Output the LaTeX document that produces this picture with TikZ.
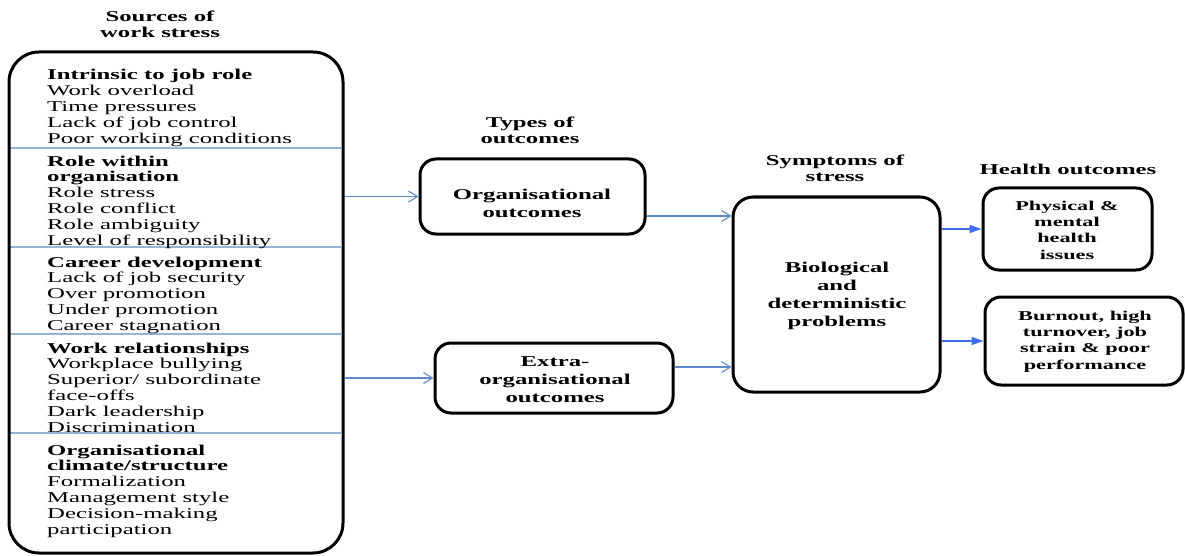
\documentclass[tikz,border=0pt]{standalone}
\usepackage{fontspec}
\setmainfont{Liberation Serif}[FakeStretch=1.65]
\usetikzlibrary{arrows.meta,calc}
\definecolor{linkblue}{RGB}{95,140,200}
\definecolor{strongblue}{RGB}{60,110,235}
\definecolor{rulegray}{RGB}{150,180,215}
\tikzset{
  frame/.style={draw, line width=3pt, rounded corners=#1, inner sep=0pt},
  frame/.default=16pt,
  % every text node is placed by the baseline of its last line
  head/.style={font=\fontsize{15}{16}\selectfont\bfseries, align=center, inner sep=0pt, anchor=base},
  boxtext/.style={font=\fontsize{15}{18}\selectfont\bfseries, align=center, inner sep=0pt, anchor=base},
  smalltext/.style={font=\fontsize{13.5}{16.3}\selectfont\bfseries, align=center, inner sep=0pt, anchor=base},
  listtext/.style={font=\fontsize{15}{15.8}\selectfont, align=left, inner sep=0pt, anchor=base west},
  openarrow/.style={draw=linkblue, line width=1.1pt, -{Straight Barb[length=9pt,width=11pt,line width=1.1pt]}},
  solidarrow/.style={draw=strongblue, line width=1.3pt, -{Triangle[length=12pt,width=8pt]}},
  divider/.style={draw=rulegray, line width=1.4pt}
}
\begin{document}
\begin{tikzpicture}[x=1pt,y=-1pt]
\useasboundingbox (0,0) rectangle (1185,556);

% column headings
\node[head] (hsrc) at (160,38) {Sources of\\work stress};
\node[head] (htype) at (530,144) {Types of\\outcomes};
\node[head] (hsym) at (835,182) {Symptoms of\\stress};
\node[head] (hhealth) at (1068,175) {Health outcomes};

% dividers between the source groups
\draw[divider] (9,148) -- (341,148);
\draw[divider] (9,247) -- (341,247);
\draw[divider] (9,334) -- (341,334);
\draw[divider] (9,433) -- (341,433);

% sources of work stress
\node[frame=30pt, minimum width=334pt, minimum height=501pt] (src) at (176,302.5) {};
\node[listtext] (g1) at (47,143.2) {\textbf{Intrinsic to job role}\\Work overload\\Time pressures\\Lack of job control\\Poor working conditions};
\node[listtext] (g2) at (47,245) {\textbf{Role within}\\\textbf{organisation}\\Role stress\\Role conflict\\Role ambiguity\\Level of responsibility};
\node[listtext] (g3) at (47,330.2) {\textbf{Career development}\\Lack of job security\\Over promotion\\Under promotion\\Career stagnation};
\node[listtext] (g4) at (47,432) {\textbf{Work relationships}\\Workplace bullying\\Superior/ subordinate\\face-offs\\Dark leadership\\Discrimination};
\node[listtext] (g5) at (47,534) {\textbf{Organisational}\\\textbf{climate/structure}\\Formalization\\Management style\\Decision-making\\participation};

% types of outcomes
\node[frame, minimum width=225pt, minimum height=75pt] (org) at (532.5,196.5) {};
\node[boxtext] (orgt) at (532,218) {Organisational\\outcomes};
\node[frame, minimum width=238pt, minimum height=70pt] (extra) at (554,378) {};
\node[boxtext] (extrat) at (555,402) {Extra-\\organisational\\outcomes};

% symptoms of stress
\node[frame=20pt, minimum width=207pt, minimum height=195pt] (bio) at (836.5,294.5) {};
\node[boxtext] (biot) at (837,326) {Biological\\and\\deterministic\\problems};

% health outcomes
\node[frame, minimum width=169pt, minimum height=82pt] (phys) at (1067.5,229) {};
\node[smalltext] (physt) at (1067,259) {Physical \&\\mental\\health\\issues};
\node[frame, minimum width=198pt, minimum height=88pt] (burn) at (1084,341) {};
\node[smalltext] (burnt) at (1085,369) {Burnout, high\\turnover, job\\strain \& poor\\performance};

% connectors
\draw[openarrow] (org.west -| src.east) -- (org.west);
\draw[openarrow] (extra.west -| src.east) -- (extra.west);
\coordinate (o1) at ($(org.east)+(0,19.5)$);
\coordinate (e1) at ($(extra.east)+(0,-11)$);
\draw[openarrow] (o1) -- (o1 -| bio.west);
\draw[openarrow] (e1) -- (e1 -| bio.west);
\draw[solidarrow] (phys.west -| bio.east) -- (phys.west);
\draw[solidarrow] (burn.west -| bio.east) -- (burn.west);
\end{tikzpicture}
\end{document}
